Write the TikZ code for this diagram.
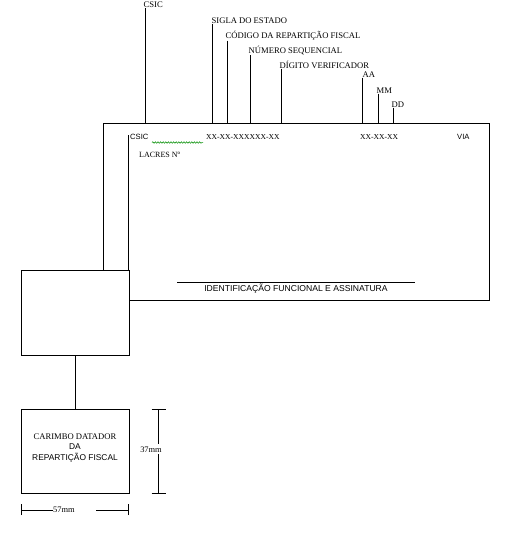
\documentclass[tikz,border=0pt]{standalone}
\usepackage{fontspec}
\setmainfont{Liberation Serif}
\setsansfont{Liberation Sans}
\usetikzlibrary{decorations.pathmorphing}
\begin{document}
\begin{tikzpicture}[x=1pt,y=-1pt,
  line/.style={draw=black,line width=0.9pt},
  toplab/.style={anchor=base west,inner sep=0.5pt,font=\fontsize{8.6}{9}\selectfont},
  inlab/.style={anchor=base west,inner sep=0pt,font=\fontsize{7.6}{9}\selectfont},
  insans/.style={anchor=base west,inner sep=0pt,font=\sffamily\fontsize{7.6}{9}\selectfont},
  boxtxt/.style={inner sep=0pt,font=\fontsize{8.6}{9}\selectfont},
  boxsans/.style={inner sep=0pt,font=\sffamily\fontsize{8.4}{9}\selectfont},
  dimlab/.style={inner sep=0pt,font=\fontsize{8.4}{9}\selectfont},
  tick/.style={draw=black,line width=0.9pt}]
\useasboundingbox (0,0) rectangle (505,533);
% main sheet
\coordinate (tl) at (103,123);
\coordinate (tr) at (489,123);
\coordinate (br) at (489,300.5);
\coordinate (bl) at (128.5,300.5);
\coordinate (il) at (128.5,135);
% small box and stamp box
\node[line,minimum width=108pt,minimum height=85pt,inner sep=0pt] (sbox) at (75,312.5) {};
\node[line,minimum width=108pt,minimum height=84pt,inner sep=0pt,align=center] (stamp) at (75,451) {};
\draw[line] (tl) -- (tr) -- (br) -- (bl);
\draw[line] (tl) -- (tl |- sbox.north);
\draw[line] (il) -- (il |- sbox.north);
\draw[line] (sbox.south) -- (stamp.north);
% stamp text
\node[boxtxt,anchor=base] (st1) at (75,439) {CARIMBO DATADOR};
\node[boxsans,anchor=base] (st2) at (75,449) {DA};
\node[boxsans,anchor=base] (st3) at (75,460) {REPARTIÇÃO FISCAL};
% top labels
\node[toplab] (l1) at (143,7) {CSIC};
\node[toplab] (l2) at (211,23) {SIGLA DO ESTADO};
\node[toplab] (l3) at (225,38) {CÓDIGO DA REPARTIÇÃO FISCAL};
\node[toplab] (l4) at (248,53) {NÚMERO SEQUENCIAL};
\node[toplab] (l5) at (279,68) {DÍGITO VERIFICADOR};
\node[toplab] (l6) at (362,77) {AA};
\node[toplab] (l7) at (376,93) {MM};
\node[toplab] (l8) at (391,107) {DD};
\coordinate (c1) at (145,123);
\coordinate (c2) at (212,123);
\coordinate (c3) at (227,123);
\coordinate (c4) at (250.5,123);
\coordinate (c5) at (281.5,123);
\coordinate (c6) at (362,123);
\coordinate (c7) at (378,123);
\coordinate (c8) at (393,123);
\foreach \i in {1,...,8} {\draw[line] (c\i |- l\i.south) -- (c\i);}
% inner texts
\node[insans] (csic) at (130,139) {CSIC};
\draw[green!55!black,line width=0.5pt,decorate,decoration={snake,amplitude=0.8pt,segment length=2.6pt}] (152,142.5) -- (203,142.5);
\node[inlab] (code) at (206,139) {XX-XX-XXXXXX-XX};
\node[inlab] (date) at (360,139) {XX-XX-XX};
\node[insans] (via) at (457,139) {VIA};
\node[inlab,font=\fontsize{8}{9}\selectfont] (lacres) at (139,157) {LACRES Nº};
% signature
\coordinate (sg1) at (177,282);
\coordinate (sg2) at (415,282);
\draw[line width=0.7pt] (sg1) -- (sg2);
\node[boxsans,anchor=base,font=\sffamily\fontsize{8.6}{9}\selectfont] (sig) at (296,291) {IDENTIFICAÇÃO FUNCIONAL E ASSINATURA};
% 37mm dimension
\coordinate (v1) at (158,409);
\coordinate (v2) at (158,493);
\node[dimlab,anchor=base,fill=white,inner ysep=2pt,inner xsep=0pt] (d37) at (151,452) {37mm};
\draw[tick] ([xshift=-6.5pt]v1) -- ([xshift=7.5pt]v1);
\draw[tick] ([xshift=-6.5pt]v2) -- ([xshift=7.5pt]v2);
\draw[line] (v1) -- (v1 |- d37.north);
\draw[line] (v2 |- d37.south) -- (v2);
% 57mm dimension
\coordinate (h1) at (21.5,510);
\coordinate (h2) at (128.5,510);
\node[dimlab,anchor=base west] (d57) at (53,512.5) {57mm};
\draw[tick] ([yshift=-5pt]h1) -- ([yshift=6pt]h1);
\draw[tick] ([yshift=-5pt]h2) -- ([yshift=6pt]h2);
\draw[line] (h1) -- (d57.west |- h1);
\draw[line] (96,510) -- (h2);
\end{tikzpicture}
\end{document}
